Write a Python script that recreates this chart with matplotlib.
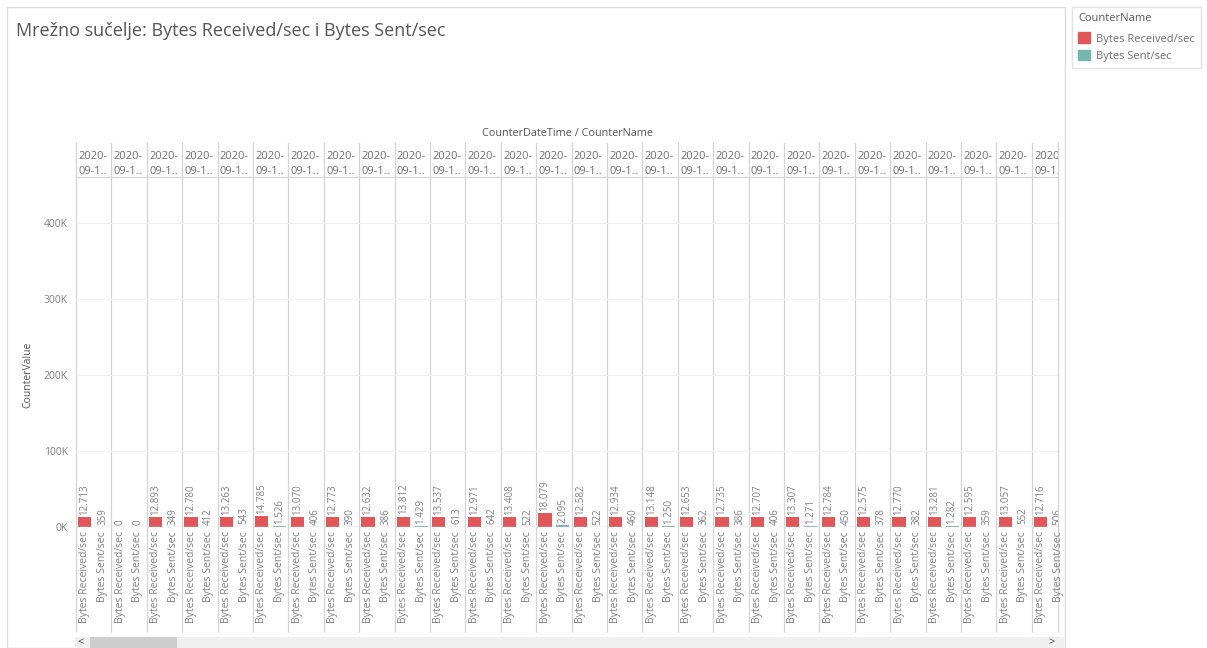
import matplotlib.pyplot as plt
import matplotlib.patches as mpatches
from matplotlib.transforms import Bbox, TransformedBbox

plt.rcParams['font.family'] = ['Open Sans', 'DejaVu Sans']

series = ['Bytes Received/sec', 'Bytes Sent/sec']
received = [12713, 0, 12893, 12780, 13263, 14785, 13070, 12773, 12632, 13812,
            13537, 12971, 13408, 18079, 12582, 12934, 13148, 12653, 12735, 12707,
            13307, 12784, 12575, 12770, 13281, 12595, 13057, 12716]
sent = [359, 0, 349, 412, 543, 1526, 406, 390, 386, 1429,
        613, 642, 522, 2095, 522, 460, 1250, 362, 386, 406,
        1271, 450, 378, 382, 1282, 359, 552, 506]
header_label = '2020-\n09-1..'
y_ticks = [0, 100000, 200000, 300000, 400000]

colors = {'Bytes Received/sec': '#e15759', 'Bytes Sent/sec': '#76b7b2'}
W, H = 1207, 648


def fx(px):
    return px / W


def fy(py):
    return 1 - py / H


fig = plt.figure(figsize=(W / 100, H / 100), dpi=100)

### cadre extérieur, titre
fig.patches.append(mpatches.Rectangle((fx(7), fy(648)), fx(1065) - fx(7), fy(7) - fy(648),
                                      transform=fig.transFigure, fill=False, edgecolor='#dcdcdc', lw=1))
fig.text(fx(16), fy(31), 'Mrežno sučelje: Bytes Received/sec i Bytes Sent/sec',
         fontsize=13, color='#555555', va='center', ha='left')

### axe principal
left, right, top, bottom = 76, 1058.3, 178, 527
ax = fig.add_axes([fx(left), fy(bottom), fx(right) - fx(left), fy(top) - fy(bottom)])
ax.set_facecolor('none')

n = len(received)
pos_r = [2 * i for i in range(n)]
pos_s = [2 * i + 1 for i in range(n)]
ax.bar(pos_r, received, width=0.74, color=colors[series[0]], zorder=3)
ax.bar(pos_s, sent, width=0.74, color=colors[series[1]], zorder=3)

unit = (1033.3 - 76) / 27 / 2
ax.set_xlim(-0.5, (right - left) / unit - 0.5)
ymax = (bottom - top) / 76 * 100000
ax.set_ylim(0, ymax)

# étiquettes de valeurs
def fmt(v):
    return f'{v:,}'.replace(',', '.')

for x, v in zip(pos_r + pos_s, received + sent):
    ax.text(x, v + ymax * 0.006, fmt(v), rotation=90, ha='center', va='bottom',
            fontsize=7, color='#808080', clip_on=True, zorder=4)

# grille
ax.set_yticks(y_ticks)
ax.set_yticklabels([f'{int(v / 1000)}K' for v in y_ticks])
ax.grid(axis='y', color='#f0f0f0', lw=0.8, zorder=0)
ax.axhline(0, color='#c8c8c8', lw=1, zorder=5)
ax.tick_params(axis='both', length=0, labelsize=7.5, labelcolor='#808080')
ax.tick_params(axis='y', pad=6)
ax.set_xticks(pos_r + pos_s)
ax.set_xticklabels([series[0]] * n + [series[1]] * n, rotation=90)
ax.tick_params(axis='x', pad=3)
for s in ax.spines.values():
    s.set_visible(False)
ax.set_ylabel('CounterValue', fontsize=7.5, color='#555555')
ax.yaxis.set_label_coords(fx(33), fy(375), transform=fig.transFigure)

# séparateurs des panneaux + en-têtes
frac = lambda py: (bottom - py) / (bottom - top)
bounds = [2 * i - 0.5 for i in range(n)]
ax.vlines(bounds, frac(632), frac(142), transform=ax.get_xaxis_transform(),
          color='#d4d4d4', lw=0.9, clip_on=False, zorder=1)
ax.vlines([ax.get_xlim()[1]], frac(632), frac(142), transform=ax.get_xaxis_transform(),
          color='#d4d4d4', lw=0.9, clip_on=False, zorder=1)
ax.plot([ax.get_xlim()[0], ax.get_xlim()[1]], [frac(177.5)] * 2, transform=ax.get_xaxis_transform(),
        color='#d4d4d4', lw=0.9, clip_on=False)
clip = TransformedBbox(Bbox([[fx(left), fy(178)], [fx(right), fy(140)]]), fig.transFigure)
for b in bounds:
    t = ax.text(b + 0.13, frac(164), header_label, transform=ax.get_xaxis_transform(),
                ha='left', va='center', fontsize=8, color='#707070', linespacing=1.5)
    t.set_clip_box(clip)
    t.set_clip_on(True)
fig.text((fx(left) + fx(right)) / 2, fy(133), 'CounterDateTime / CounterName',
         ha='center', va='center', fontsize=7.8, color='#555555')

### barre de défilement
fig.patches.append(mpatches.Rectangle((fx(75), fy(648)), fx(1064) - fx(75), fy(637) - fy(648),
                                      transform=fig.transFigure, color='#f0f0f0', lw=0))
fig.patches.append(mpatches.Rectangle((fx(90), fy(648)), fx(177) - fx(90), fy(637) - fy(648),
                                      transform=fig.transFigure, color='#cdcdcd', lw=0))
fig.text(fx(81), fy(643), '<', ha='center', va='center', fontsize=8, color='#444444')
fig.text(fx(1052), fy(643), '>', ha='center', va='center', fontsize=8, color='#444444')

### légende
handles = [mpatches.Patch(color=colors[s], label=s) for s in series]
leg = fig.legend(handles=handles, title='CounterName', loc='upper left',
                 bbox_to_anchor=(fx(1072), fy(7)), frameon=True, fancybox=False,
                 fontsize=8, title_fontsize=8, alignment='left',
                 handlelength=1.1, handleheight=1.1, handletextpad=0.55,
                 borderpad=0.55, labelspacing=0.45, borderaxespad=0)
leg.get_frame().set_edgecolor('#dcdcdc')
leg.get_frame().set_linewidth(1)
leg.get_title().set_color('#555555')
leg._legend_box.sep = 6
for t in leg.get_texts():
    t.set_color('#707070')

fig.savefig('out.png', dpi=100)
